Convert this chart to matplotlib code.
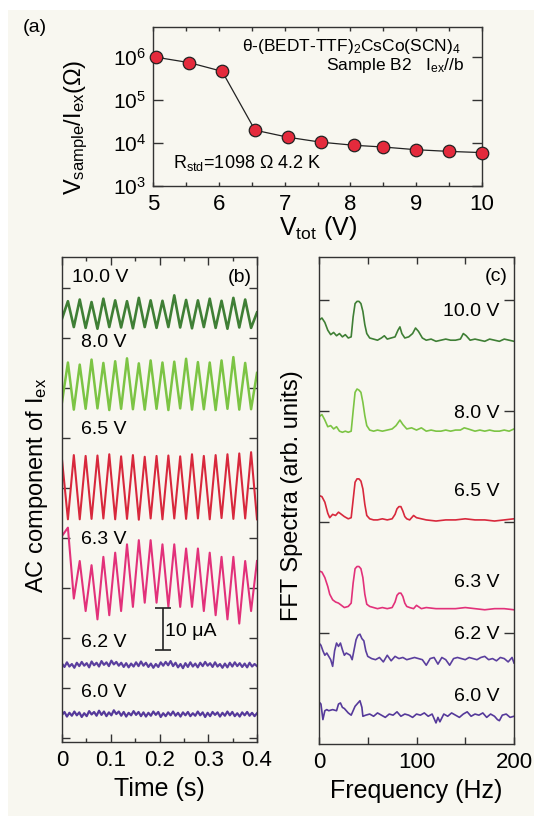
import numpy as np
import matplotlib
matplotlib.use('Agg')
import matplotlib.pyplot as plt
from matplotlib.patches import Rectangle
from matplotlib.ticker import FixedLocator, NullLocator, MultipleLocator, NullFormatter, FixedFormatter

plt.rcParams['font.family'] = ['Liberation Sans', 'DejaVu Sans']
plt.rcParams['mathtext.fontset'] = 'custom'
plt.rcParams['mathtext.rm'] = 'Liberation Sans'
plt.rcParams['mathtext.it'] = 'Liberation Sans:italic'
plt.rcParams['mathtext.bf'] = 'Liberation Sans:bold'

# ---------------- data ----------------
# (a) resistance vs total voltage
v_tot = [5.05, 5.55, 6.05, 6.55, 7.05, 7.55, 8.05, 8.5, 9.0, 9.5, 10.0]
r_ratio = [1.0e6, 7.5e5, 4.7e5, 2.0e4, 1.37e4, 1.05e4, 8.9e3, 8.1e3, 7.0e3, 6.4e3, 6.0e3]

# (b) AC component of I_ex, extrema (uA, relative to trace offset)
trace_labels = ['10.0 V', '8.0 V', '6.5 V', '6.3 V', '6.2 V', '6.0 V']
trace_colors = ['#3f7f35', '#7cc444', '#d8283c', '#e2317a', '#5b3f9e', '#55399a']
trace_offsets = [101.6, 84.6, 60.3, 38.5, 17.6, 5.8]

ac_100 = [-1.0, 3.2, -3.0, 3.6, -3.2, 3.0, -3.4, 3.8, -3.0, 3.4, -3.1, 3.2, -3.3, 4.0, -3.0, 3.4, -3.2,
          3.3, -3.0, 4.6, -3.1, 3.5, -3.3, 3.4, -3.0, 3.8, -3.2, 3.3, -3.4, 4.0, -3.1, 3.6, -3.2, 0.5]
ac_80 = [-4.0, 5.5, -5.8, 5.0, -5.6, 6.2, -5.5, 5.4, -5.9, 5.8, -5.6, 6.5, -5.7, 5.3, -5.8, 6.0, -5.6,
         5.5, -5.9, 5.7, -5.5, 6.4, -5.8, 5.6, -5.7, 5.5, -5.9, 6.0, -5.6, 6.8, -5.8, 5.4, -5.7, 3.0]
ac_65 = [6.5, -7.8, 7.6, -7.8, 7.4, -7.7, 7.5, -7.6, 7.8, -7.8, 7.3, -7.7, 7.6, -7.9, 7.2, -7.6, 7.4,
         -7.8, 7.5, -7.6, 7.3, -7.7, 7.8, -7.6, 7.4, -7.8, 7.6, -7.5, 7.8, -7.7, 8.0, -7.6, 8.3, -7.8]
ac_63 = [10.0, 12.0, -5.0, 4.0, -8.0, 3.0, -10.0, 5.0, -9.0, 6.0, -8.0, 8.0, -7.0, 9.0, -6.0, 9.0, -6.0,
         8.0, -7.0, 8.0, -7.0, 7.0, -7.0, 7.0, -8.0, 6.0, -9.0, 5.0, -10.0, 5.0, -11.0, 4.0, -8.0, 4.0]
ac_62 = [0.3, -0.5, 0.6, -0.4, 0.2, -0.7, 0.5, -0.3, 0.7, -0.2, 0.4, -0.6, 0.8, -0.1, 0.5, -0.4,
         0.9, 0.0, 0.6, -0.3, 1.0, 0.1, 0.7, -0.2, 0.5, -0.5, 0.4, -0.6, 0.3, -0.4, 0.6, -0.3,
         0.8, -0.2, 0.5, -0.5, 0.3, -0.7, 0.2, -0.5, 0.6, -0.2, 0.7, -0.1, 0.9, -0.3, 0.5, -0.6,
         0.2, -0.8, 0.4, -0.5, 0.6, -0.4, 0.3, -0.6, 0.5, -0.3, 0.7, -0.2, 0.4, -0.5, 0.6, -0.4,
         0.2, -0.7, 0.3, -0.6, 0.5, -0.4, 0.6, -0.3, 0.4, -0.5, 0.3, -0.6, 0.5, -0.4, 0.2, -0.3]
ac_60 = [-0.2, 0.5, -0.6, 0.3, -0.4, 0.6, -0.3, 0.4, -0.7, 0.2, -0.5, 0.7, -0.1, 0.5, -0.4, 0.8,
         -0.2, 0.6, -0.5, 0.4, -0.3, 0.9, 0.0, 0.6, -0.4, 0.5, -0.6, 0.3, -0.3, 0.7, -0.2, 0.5,
         -0.5, 0.4, -0.6, 0.3, -0.4, 0.6, -0.2, 0.5, -0.7, 0.2, -0.5, 0.4, -0.3, 0.6, -0.4, 0.3,
         -0.6, 0.4, -0.3, 0.5, -0.5, 0.2, -0.4, 0.6, -0.3, 0.4, -0.7, 0.3, -0.5, 0.5, -0.2, 0.4,
         -0.6, 0.3, -0.4, 0.6, -0.3, 0.5, -0.5, 0.2, -0.6, 0.4, -0.3, 0.5, -0.4, 0.3, -0.5, 0.2]
ac_traces = [ac_100, ac_80, ac_65, ac_63, ac_62, ac_60]

# (c) FFT spectra (arb. units, already stacked)
f_100 = [0, 3, 6, 9, 12, 15, 18, 21, 24, 27, 30, 33, 35, 37, 39, 41, 43, 45, 47, 49, 52, 56, 60, 64,
         67, 70, 74, 78, 81, 83, 85, 88, 92, 96, 99, 102, 106, 110, 115, 120, 125, 130, 135, 140, 145,
         148, 151, 155, 160, 165, 170, 175, 180, 185, 190, 195, 200]
s_100 = [3.82, 3.84, 3.80, 3.73, 3.69, 3.71, 3.68, 3.70, 3.67, 3.69, 3.66, 3.67, 3.85, 3.97, 3.99, 3.99,
         3.97, 3.90, 3.78, 3.70, 3.66, 3.65, 3.64, 3.66, 3.68, 3.65, 3.66, 3.67, 3.73, 3.76, 3.70, 3.66,
         3.67, 3.70, 3.75, 3.72, 3.66, 3.64, 3.65, 3.63, 3.64, 3.65, 3.64, 3.64, 3.65, 3.70, 3.68, 3.64,
         3.65, 3.64, 3.63, 3.65, 3.64, 3.63, 3.65, 3.64, 3.63]
f_80 = [0, 3, 6, 9, 12, 15, 18, 21, 24, 27, 30, 33, 35, 37, 39, 41, 43, 45, 47, 49, 52, 56, 60, 65, 70,
        75, 79, 83, 86, 90, 95, 100, 105, 110, 115, 120, 125, 130, 135, 140, 145, 149, 153, 160, 165,
        170, 175, 180, 185, 190, 195, 200]
s_80 = [2.95, 2.97, 2.92, 2.86, 2.87, 2.84, 2.86, 2.82, 2.81, 2.82, 2.81, 2.82, 3.00, 3.17, 3.20, 3.19,
        3.17, 3.08, 2.96, 2.87, 2.83, 2.82, 2.83, 2.82, 2.83, 2.84, 2.87, 2.92, 2.88, 2.84, 2.85, 2.83,
        2.85, 2.82, 2.83, 2.82, 2.82, 2.83, 2.82, 2.83, 2.83, 2.85, 2.84, 2.82, 2.83, 2.82, 2.83, 2.82,
        2.82, 2.83, 2.82, 2.84]
f_65 = [0, 3, 6, 9, 11, 14, 17, 20, 23, 26, 30, 33, 35, 37, 39, 41, 43, 45, 47, 49, 52, 56, 60, 65, 70,
        75, 78, 80, 82, 84, 86, 88, 90, 93, 97, 100, 105, 110, 120, 130, 140, 150, 160, 170, 180, 190, 200]
s_65 = [2.24, 2.23, 2.18, 2.08, 2.04, 2.07, 2.06, 2.09, 2.07, 2.05, 2.03, 2.04, 2.20, 2.36, 2.39, 2.39,
        2.37, 2.30, 2.16, 2.06, 2.03, 2.02, 2.02, 2.03, 2.02, 2.03, 2.07, 2.12, 2.14, 2.14, 2.10, 2.05,
        2.03, 2.02, 2.06, 2.04, 2.03, 2.02, 2.01, 2.02, 2.02, 2.03, 2.02, 2.02, 2.01, 2.02, 2.03]
f_63 = [0, 3, 6, 9, 11, 14, 17, 20, 23, 26, 30, 33, 35, 37, 39, 41, 43, 45, 47, 49, 52, 56, 60, 65, 70,
        75, 78, 80, 82, 84, 86, 88, 90, 93, 97, 100, 105, 110, 120, 130, 140, 150, 160, 170, 180, 190, 200]
s_63 = [1.56, 1.55, 1.50, 1.42, 1.35, 1.30, 1.28, 1.27, 1.25, 1.23, 1.24, 1.27, 1.45, 1.58, 1.60, 1.60,
        1.58, 1.50, 1.35, 1.26, 1.24, 1.23, 1.22, 1.23, 1.22, 1.23, 1.28, 1.34, 1.36, 1.36, 1.33, 1.27,
        1.24, 1.23, 1.22, 1.25, 1.22, 1.23, 1.22, 1.22, 1.22, 1.23, 1.22, 1.21, 1.22, 1.22, 1.21]
f_62 = [0, 2, 4, 6, 8, 10, 12, 14, 16, 18, 20, 22, 24, 26, 28, 30, 32, 34, 36, 38, 40, 42, 44, 46, 48,
        50, 54, 58, 62, 66, 70, 74, 78, 82, 86, 90, 94, 98, 102, 106, 110, 114, 118, 122, 126, 130, 134,
        138, 142, 146, 150, 154, 158, 162, 166, 170, 174, 178, 182, 186, 190, 194, 198, 200]
s_62 = [0.91, 0.89, 0.84, 0.80, 0.82, 0.79, 0.76, 0.70, 0.84, 0.91, 0.88, 0.91, 0.85, 0.80, 0.82, 0.81,
        0.80, 0.76, 0.85, 0.94, 0.98, 0.99, 0.95, 0.93, 0.84, 0.79, 0.77, 0.76, 0.78, 0.74, 0.80, 0.75,
        0.79, 0.77, 0.78, 0.76, 0.77, 0.78, 0.77, 0.76, 0.71, 0.77, 0.78, 0.72, 0.78, 0.76, 0.71, 0.77,
        0.78, 0.77, 0.76, 0.78, 0.77, 0.76, 0.78, 0.79, 0.76, 0.77, 0.75, 0.78, 0.77, 0.74, 0.78, 0.73]
f_60 = [0, 2, 4, 6, 8, 10, 14, 18, 20, 22, 24, 26, 28, 30, 33, 35, 37, 39, 42, 44, 45, 48, 52, 56, 60,
        64, 68, 72, 76, 80, 84, 88, 92, 96, 100, 104, 108, 112, 116, 120, 122, 124, 128, 132, 136, 140,
        144, 148, 152, 156, 160, 164, 168, 172, 176, 180, 183, 185, 188, 192, 196, 200]
s_60 = [0.38, 0.36, 0.22, 0.30, 0.31, 0.30, 0.31, 0.30, 0.36, 0.37, 0.33, 0.32, 0.30, 0.28, 0.26, 0.30,
        0.34, 0.36, 0.39, 0.33, 0.25, 0.26, 0.27, 0.25, 0.28, 0.26, 0.24, 0.27, 0.26, 0.29, 0.25, 0.27,
        0.26, 0.24, 0.27, 0.26, 0.28, 0.25, 0.27, 0.19, 0.24, 0.20, 0.27, 0.25, 0.28, 0.26, 0.24, 0.27,
        0.29, 0.25, 0.27, 0.26, 0.28, 0.24, 0.27, 0.25, 0.22, 0.21, 0.26, 0.27, 0.24, 0.25]
fft_f = [f_100, f_80, f_65, f_63, f_62, f_60]
fft_s = [s_100, s_80, s_65, s_63, s_62, s_60]

bg = '#f8f7f0'
spine_c = '#333333'

fig = plt.figure(figsize=(5.34, 8.16), dpi=100, facecolor='white')
fig.patches.append(Rectangle((8 / 534, 0), 1, 1 - 10 / 816, transform=fig.transFigure,
                             facecolor=bg, edgecolor='none', zorder=-10))


def style_axes(ax):
    ax.set_facecolor(bg)
    for s in ax.spines.values():
        s.set_color(spine_c)
        s.set_linewidth(1.0)
    ax.tick_params(which='both', direction='in', top=True, right=True, color=spine_c, width=1.0)


# ---------------- (a) ----------------
axa = fig.add_axes([153 / 534, 1 - 186 / 816, 329 / 534, 159 / 816])
style_axes(axa)
axa.plot(v_tot, r_ratio, '-', color='#222222', lw=0.9, zorder=2)
axa.plot(v_tot, r_ratio, 'o', ms=9, mfc='#e42a3c', mec='#222222', mew=0.9, zorder=3, clip_on=False)
axa.set_yscale('log')
axa.set_xlim(5, 10)
axa.set_ylim(1e3, 10 ** 6.705)
axa.yaxis.set_major_locator(FixedLocator([1e3, 1e4, 1e5, 1e6]))
axa.yaxis.set_minor_locator(NullLocator())
axa.xaxis.set_major_locator(MultipleLocator(1))
axa.xaxis.set_minor_locator(MultipleLocator(0.5))
axa.tick_params(axis='x', which='both', length=3.2, labelsize=16, pad=6)
axa.tick_params(axis='y', which='major', length=7, labelsize=15, pad=5)
axa.set_xlabel('V$_{\\mathregular{tot}}$ (V)', fontsize=18)
axa.xaxis.set_label_coords(0.5, -0.175)
axa.set_ylabel('V$_{\\mathregular{sample}}$/I$_{\\mathregular{ex}}$(Ω)', fontsize=17)
axa.yaxis.set_label_coords(-0.19, 0.37)
axa.text(0.935, 0.875, 'θ-(BEDT-TTF)$_{\\mathregular{2}}$CsCo(SCN)$_{\\mathregular{4}}$', transform=axa.transAxes,
         ha='right', va='center', fontsize=12.5)
axa.text(0.945, 0.76, 'Sample B2   I$_{\\mathregular{ex}}$//b', transform=axa.transAxes,
         ha='right', va='center', fontsize=12.5)
axa.text(0.06, 0.145, 'R$_{\\mathregular{std}}$=1098 Ω 4.2 K', transform=axa.transAxes,
         ha='left', va='center', fontsize=13)
fig.text(23 / 534, 1 - 27 / 816, '(a)', ha='left', va='center', fontsize=14)

# ---------------- (b) ----------------
axb = fig.add_axes([62 / 534, 1 - 742 / 816, 195 / 534, 485 / 816])
style_axes(axb)
trace_lw = [1.9, 1.8, 1.5, 1.5, 1.6, 1.6]
for vals, off, col, lw in zip(ac_traces, trace_offsets, trace_colors, trace_lw):
    t = np.linspace(0, 0.4, len(vals))
    axb.plot(t, np.array(vals) + off, color=col, lw=lw)
axb.set_xlim(0, 0.4)
axb.set_ylim(-0.9, 115.4)
axb.xaxis.set_major_locator(FixedLocator([0, 0.1, 0.2, 0.3, 0.4]))
axb.xaxis.set_minor_locator(MultipleLocator(0.05))
axb.xaxis.set_major_formatter(FixedFormatter(['0', '0.1', '0.2', '0.3', '0.4']))
axb.yaxis.set_major_locator(FixedLocator(np.arange(0, 109, 12)))
axb.yaxis.set_major_formatter(NullFormatter())
axb.tick_params(axis='x', which='major', length=5.5, labelsize=16, pad=6)
axb.tick_params(axis='x', which='minor', length=3)
axb.tick_params(axis='y', which='major', length=6)
axb.set_xlabel('Time (s)', fontsize=18)
axb.xaxis.set_label_coords(0.5, -0.072)
axb.set_ylabel('AC component of I$_{\\mathregular{ex}}$', fontsize=17)
axb.yaxis.set_label_coords(-0.06, 0.53)
b_label_t = [0.0205, 0.039, 0.039, 0.039, 0.039, 0.039]
b_label_y = [110.6, 95.0, 74.0, 47.6, 22.9, 10.9]
for lab, tx, ty in zip(trace_labels, b_label_t, b_label_y):
    axb.text(tx, ty, lab, ha='left', va='center', fontsize=14)
axb.text(0.39, 110.6, '(b)', ha='right', va='center', fontsize=14)
# scale bar: 10 uA
axb.errorbar([0.207], [26.2], yerr=[5.0], color='#222222', lw=1.2, capsize=5.8, capthick=1.2)
axb.text(0.211, 25.5, '10 μA', ha='left', va='center', fontsize=14)

# ---------------- (c) ----------------
axc = fig.add_axes([319 / 534, 1 - 744 / 816, 195 / 534, 487 / 816])
style_axes(axc)
for fx, sy, col in zip(fft_f, fft_s, trace_colors):
    axc.plot(fx, sy, color=col, lw=1.2)
axc.set_xlim(0, 200)
axc.set_ylim(0, 4.39)
axc.xaxis.set_major_locator(FixedLocator([0, 100, 200]))
axc.xaxis.set_minor_locator(FixedLocator([50, 150]))
axc.yaxis.set_major_locator(FixedLocator([1, 2, 3, 4]))
axc.yaxis.set_major_formatter(NullFormatter())
axc.tick_params(axis='x', which='both', length=5, labelsize=16, pad=6)
axc.tick_params(axis='y', which='major', length=7)
axc.set_xlabel('Frequency (Hz)', fontsize=18)
axc.xaxis.set_label_coords(0.5, -0.072)
axc.set_ylabel('FFT Spectra (arb. units)', fontsize=17)
axc.yaxis.set_label_coords(-0.082, 0.51)
c_label_y = [3.90, 2.98, 2.28, 1.46, 0.99, 0.43]
for lab, ty in zip(trace_labels, c_label_y):
    axc.text(185, ty, lab, ha='right', va='center', fontsize=14)
axc.text(193.6, 4.21, '(c)', ha='right', va='center', fontsize=14)

fig.savefig('out.png', dpi=100, facecolor=fig.get_facecolor())
